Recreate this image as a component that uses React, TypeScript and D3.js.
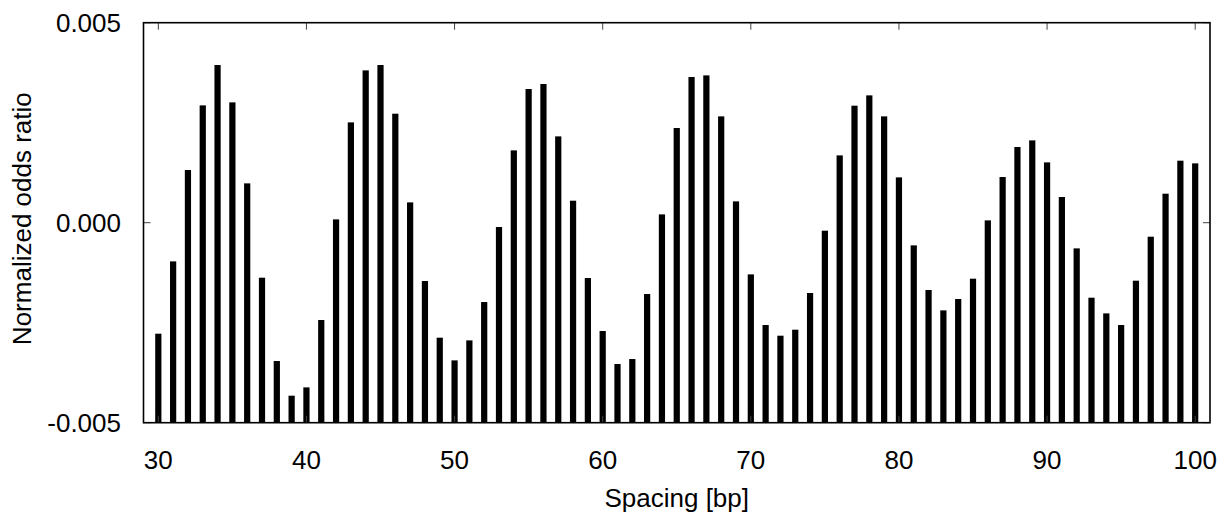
import React from "react";
import * as d3 from "d3";

// Spacing in bp (x) and normalized odds ratio values (y)
const spacings: number[] = d3.range(30, 101);
const oddsRatio: number[] = [
  -0.002775, -0.000967, 0.001317, 0.002933, 0.003942, 0.003008, 0.000983, -0.001375, -0.003458, -0.004325,
  -0.004117, -0.002433, 0.000083, 0.002508, 0.003808, 0.003942, 0.002725, 0.000508, -0.001458, -0.002875,
  -0.003442, -0.002942, -0.001983, -0.000108, 0.001808, 0.003342, 0.003467, 0.002158, 0.00055, -0.001383,
  -0.002708, -0.003533, -0.003408, -0.001783, 0.000208, 0.002367, 0.003642, 0.003683, 0.002658, 0.000533,
  -0.001292, -0.002558, -0.002825, -0.002675, -0.001758, -0.0002, 0.001683, 0.002925, 0.003183, 0.002658,
  0.001133, -0.000567, -0.001683, -0.002192, -0.001908, -0.0014, 0.000058, 0.001142, 0.001892, 0.002058,
  0.001508, 0.000642, -0.000642, -0.001875, -0.002267, -0.002558, -0.00145, -0.00035, 0.000725, 0.00155,
  0.001483,
];
const xTicks: number[] = [30, 40, 50, 60, 70, 80, 90, 100];
const yTicks: number[] = [-0.005, 0, 0.005];
const xDomain: [number, number] = [29, 101];
const yDomain: [number, number] = [-0.005, 0.005];
const xLabel = "Spacing [bp]";
const yLabel = "Normalized odds ratio";
const boxWidth = 0.42;

const W = 1223;
const H = 518;
const M = { left: 143.5, right: 1210, top: 22.7, bottom: 422.7 };
const FONT = "'Liberation Sans', Arial, sans-serif";
const FS = 26;
const TICK = 7;

export default function App() {
  const x = d3.scaleLinear().domain(xDomain).range([M.left, M.right]);
  const y = d3.scaleLinear().domain(yDomain).range([M.bottom, M.top]);
  const bw = x(xDomain[0] + boxWidth) - x(xDomain[0]);
  const fmt = (v: number) => d3.format(".3f")(v).replace("\u2212", "-");

  return (
    <svg
      width={W}
      height={H}
      viewBox={`0 0 ${W} ${H}`}
      style={{ position: "absolute", left: 0, top: 0, background: "#fff" }}
    >
      <rect x={0} y={0} width={W} height={H} fill="#fff" />
      {spacings.map((s, i) => (
        <rect
          key={s}
          x={x(s) - bw / 2}
          y={y(oddsRatio[i])}
          width={bw}
          height={y(yDomain[0]) - y(oddsRatio[i])}
          fill="#000"
        />
      ))}
      {/* ticks */}
      {xTicks.map((t) => (
        <g key={"xt" + t}>
          <line x1={x(t)} x2={x(t)} y1={M.top} y2={M.top + TICK} stroke="#444" strokeWidth={1} />
          <line x1={x(t)} x2={x(t)} y1={M.bottom} y2={M.bottom - TICK} stroke="#444" strokeWidth={1} />
          <text
            x={x(t)}
            y={469}
            textAnchor="middle"
            fontFamily={FONT}
            fontSize={FS}
            fill="#000"
          >
            {t}
          </text>
        </g>
      ))}
      {yTicks.map((t) => (
        <g key={"yt" + t}>
          <line x1={M.left} x2={M.left + TICK} y1={y(t)} y2={y(t)} stroke="#444" strokeWidth={1} />
          <line x1={M.right} x2={M.right - TICK} y1={y(t)} y2={y(t)} stroke="#444" strokeWidth={1} />
          <text
            x={121}
            y={y(t)}
            dy="0.36em"
            textAnchor="end"
            fontFamily={FONT}
            fontSize={FS}
            fill="#000"
          >
            {fmt(t)}
          </text>
        </g>
      ))}
      <rect
        x={M.left}
        y={M.top}
        width={M.right - M.left}
        height={M.bottom - M.top}
        fill="none"
        stroke="#000"
        strokeWidth={1.6}
      />
      <text
        x={(M.left + M.right) / 2}
        y={507}
        textAnchor="middle"
        fontFamily={FONT}
        fontSize={FS}
        fill="#000"
      >
        {xLabel}
      </text>
      <text
        transform={`translate(31, ${(M.top + M.bottom) / 2 - 4}) rotate(-90)`}
        textAnchor="middle"
        fontFamily={FONT}
        fontSize={FS}
        fill="#000"
      >
        {yLabel}
      </text>
    </svg>
  );
}
